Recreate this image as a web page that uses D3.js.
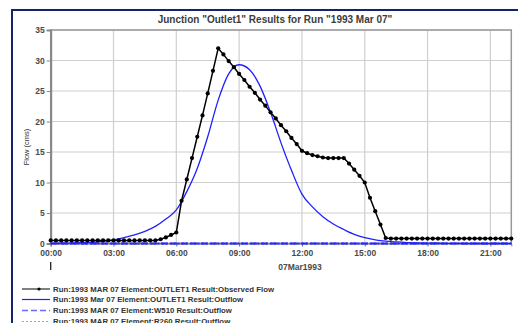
<!DOCTYPE html>
<html>
<head>
<meta charset="utf-8">
<script src="https://cdn.jsdelivr.net/npm/d3@7"></script>
<style>
  body { margin: 0; background: #fff; }
  svg { display: block; font-family: Arial, "Liberation Sans", sans-serif; }
</style>
</head>
<body>
<svg id="chart" width="518" height="323"></svg>
<script>
// observed flow, every 15 min from 00:00 to 22:00 (cms)
var obsStepHours = 0.25;
var observedFlow = [
  0.5, 0.5, 0.5, 0.5, 0.5, 0.5, 0.5, 0.5, 0.5, 0.5, 0.5, 0.5,
  0.5, 0.5, 0.5, 0.5, 0.5, 0.5, 0.5, 0.5, 0.5,
  0.7, 1.0, 1.4, 1.8,
  7.0, 10.5, 14.0, 17.5, 21.0, 24.6, 28.3, 32.0,
  31.0, 29.9, 28.9, 27.8, 26.8, 25.7, 24.7, 23.6,
  22.6, 21.5, 20.5, 19.4, 18.4, 17.3, 16.3, 15.2,
  14.8, 14.5, 14.3, 14.1, 14.0, 14.0, 14.0, 14.0,
  13.1, 12.1, 11.1, 10.0,
  7.5, 5.3, 3.1, 0.9,
  0.8, 0.8, 0.8, 0.8, 0.8, 0.8, 0.8, 0.8, 0.8, 0.8, 0.8, 0.8,
  0.8, 0.8, 0.8, 0.8, 0.8, 0.8, 0.8, 0.8, 0.8, 0.8, 0.8, 0.8
];

// computed outflow at OUTLET1, every 30 min
var outStepHours = 0.5;
var outletOutflow = [
  0.02, 0.05, 0.08, 0.12, 0.2, 0.35, 0.6, 0.95, 1.4, 2.0, 2.8, 4.0,
  5.5, 8.5, 12.3, 17.5, 23.5, 27.8, 29.3, 28.5, 25.8, 21.5, 16.5, 12.0,
  8.1, 6.0, 4.4, 3.2, 2.3, 1.5, 0.95, 0.6, 0.38, 0.25, 0.15, 0.1,
  0.06, 0.04, 0.02, 0.01, 0, 0, 0, 0, 0
];

// W510 and R260 outflow (flat zero)
var w510Outflow = [0, 0];
var r260Outflow = [0, 0];
var flatHours = [0, 22];

var xTickHours = [0, 3, 6, 9, 12, 15, 18, 21];
var xTickLabels = ["00:00", "03:00", "06:00", "09:00", "12:00", "15:00", "18:00", "21:00"];
var yTicks = [0, 5, 10, 15, 20, 25, 30, 35];

var legendLabels = [
  "Run:1993 MAR 07 Element:OUTLET1 Result:Observed Flow",
  "Run:1993 Mar 07 Element:OUTLET1 Result:Outflow",
  "Run:1993 MAR 07 Element:W510 Result:Outflow",
  "Run:1993 MAR 07 Element:R260 Result:Outflow"
];

var svg = d3.select("#chart");

var plotLeft = 50.7, plotRight = 511.3, plotTop = 30, plotBottom = 243.5;

var x = d3.scaleLinear().domain([0, 22]).range([plotLeft, plotRight]);
var y = d3.scaleLinear().domain([0, 35]).range([plotBottom, plotTop]);

// outer frame
svg.append("line").attr("x1", 12).attr("x2", 12).attr("y1", 9).attr("y2", 323)
  .style("stroke", "#14246a").style("stroke-width", 2);
svg.append("line").attr("x1", 11).attr("x2", 518).attr("y1", 10).attr("y2", 10)
  .style("stroke", "#14246a").style("stroke-width", 2);

// title
svg.append("text")
  .attr("x", 275).attr("y", 22.5)
  .attr("text-anchor", "middle")
  .style("font-size", "10px")
  .style("font-weight", "bold")
  .style("fill", "#3c3c3c")
  .text('Junction "Outlet1" Results for Run "1993 Mar 07"');

// grid
svg.append("g").selectAll("line")
  .data(yTicks)
  .enter().append("line")
    .attr("x1", plotLeft).attr("x2", plotRight)
    .attr("y1", function(d) { return y(d); })
    .attr("y2", function(d) { return y(d); })
    .style("stroke", "#cfcfcf").style("stroke-width", 1.2);
svg.append("g").selectAll("line")
  .data(xTickHours)
  .enter().append("line")
    .attr("x1", function(d) { return x(d); })
    .attr("x2", function(d) { return x(d); })
    .attr("y1", plotTop).attr("y2", plotBottom)
    .style("stroke", "#cfcfcf").style("stroke-width", 1.2);

// plot border
svg.append("rect")
  .attr("x", plotLeft).attr("y", plotTop)
  .attr("width", plotRight - plotLeft).attr("height", plotBottom - plotTop)
  .style("fill", "none").style("stroke", "#999").style("stroke-width", 1.5);

// y axis
var yAxis = svg.append("g")
  .attr("transform", "translate(" + plotLeft + ",0)")
  .call(d3.axisLeft(y).tickValues(yTicks).tickSize(4).tickPadding(2));
yAxis.select(".domain").style("stroke", "#888").style("stroke-width", 2);
yAxis.selectAll(".tick line").style("stroke", "#888");
yAxis.selectAll("text").style("font-size", "8.5px").style("fill", "#4a4a4a")
  .style("font-weight", "bold")
  .style("font-family", "Arial, 'Liberation Sans', sans-serif");

// x axis
var xAxis = svg.append("g")
  .attr("transform", "translate(0," + plotBottom + ")")
  .call(d3.axisBottom(x).tickValues(xTickHours)
    .tickFormat(function(d, i) { return xTickLabels[i]; })
    .tickSize(3).tickPadding(3));
xAxis.select(".domain").style("stroke", "#888");
xAxis.selectAll(".tick line").style("stroke", "#666");
xAxis.selectAll("text").style("font-size", "8.5px").style("fill", "#4a4a4a")
  .style("font-weight", "bold")
  .style("font-family", "Arial, 'Liberation Sans', sans-serif");

// date label and start marker
svg.append("text")
  .attr("x", 300).attr("y", 269.5)
  .attr("text-anchor", "middle")
  .style("font-size", "8.5px").style("fill", "#4a4a4a")
  .style("font-weight", "bold")
  .text("07Mar1993");
svg.append("line")
  .attr("x1", x(0)).attr("x2", x(0)).attr("y1", 262).attr("y2", 270)
  .style("stroke", "#222").style("stroke-width", 1.3);

// y label
svg.append("text")
  .attr("transform", "translate(29,147)rotate(-90)")
  .attr("text-anchor", "middle")
  .style("font-size", "7.5px").style("fill", "#333")
  .text("Flow (cms)");

// zero-flow series
var flatLine = d3.line()
  .x(function(d, i) { return x(flatHours[i]); })
  .y(function(d) { return y(d); });
svg.append("path").datum(w510Outflow)
  .attr("d", flatLine)
  .style("fill", "none").style("stroke", "#2a2aff").style("stroke-width", 2)
  .style("stroke-dasharray", "7,3");
svg.append("path").datum(r260Outflow)
  .attr("d", flatLine)
  .style("fill", "none").style("stroke", "#2a2aff").style("stroke-width", 2)
  .style("stroke-dasharray", "2,2")
  .style("stroke-dashoffset", 1);

// outlet outflow
var outLine = d3.line()
  .x(function(d, i) { return x(i * outStepHours); })
  .y(function(d) { return y(d); })
  .curve(d3.curveMonotoneX);
svg.append("path").datum(outletOutflow)
  .attr("d", outLine)
  .style("fill", "none").style("stroke", "#2020ff").style("stroke-width", 1.3);

// observed flow
var obsLine = d3.line()
  .x(function(d, i) { return x(i * obsStepHours); })
  .y(function(d) { return y(d); });
svg.append("path").datum(observedFlow)
  .attr("d", obsLine)
  .style("fill", "none").style("stroke", "#000").style("stroke-width", 1.5);
svg.append("g").selectAll("circle")
  .data(observedFlow)
  .enter().append("circle")
    .attr("cx", function(d, i) { return x(i * obsStepHours); })
    .attr("cy", function(d) { return y(d); })
    .attr("r", 2.1)
    .style("fill", "#000");

// legend
var legendY = [289, 299.5, 310.5, 321.5];
var legendStyles = [
  { color: "#000", dash: null, width: 1 },
  { color: "#2020ff", dash: null, width: 1.2 },
  { color: "#6a6aff", dash: "6,3", width: 1.5 },
  { color: "#9a9aff", dash: "2,2", width: 1.2 }
];
var legend = svg.append("g");
legendLabels.forEach(function(label, i) {
  var ln = legend.append("line")
    .attr("x1", 22).attr("x2", 50)
    .attr("y1", legendY[i]).attr("y2", legendY[i])
    .style("stroke", legendStyles[i].color)
    .style("stroke-width", legendStyles[i].width);
  if (legendStyles[i].dash) ln.style("stroke-dasharray", legendStyles[i].dash);
  if (i === 0) {
    legend.append("circle").attr("cx", 39).attr("cy", legendY[i]).attr("r", 1.6)
      .style("fill", "#000");
  }
  legend.append("text")
    .attr("x", 53).attr("y", legendY[i] + 2.8)
    .style("font-size", "7.8px").style("fill", "#333")
    .style("font-weight", "bold")
    .text(label);
});
</script>
</body>
</html>
